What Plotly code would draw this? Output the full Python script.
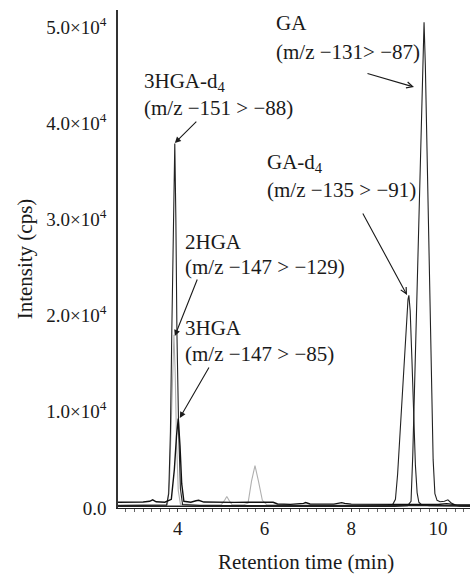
import plotly.graph_objects as go

# ---------------- data (retention time in min, intensity in cps) ----------------
t_ga = [2.62, 3.0, 3.5, 4.0, 4.5, 5.0, 5.5, 6.0, 6.5, 7.0, 7.5, 8.0, 8.5, 9.0, 9.30, 9.38,
        9.42, 9.46, 9.50, 9.55, 9.60, 9.65, 9.68, 9.71, 9.75, 9.80, 9.85, 9.89, 9.93, 9.98,
        10.05, 10.15, 10.23, 10.30, 10.40, 10.50, 10.74]
i_ga = [150, 160, 150, 170, 150, 160, 150, 160, 150, 170, 150, 160, 150, 170, 250, 700,
        5500, 12500, 20000, 29000, 38000, 46500, 50500, 46000, 36000, 24000, 12500, 5000, 1500, 800,
        650, 700, 850, 550, 300, 200, 150]

t_gad4 = [2.62, 3.2, 3.8, 4.4, 5.0, 5.6, 6.2, 6.8, 7.4, 8.0, 8.6, 8.95, 9.02, 9.07, 9.12,
          9.17, 9.22, 9.27, 9.31, 9.33, 9.36, 9.40, 9.44, 9.48, 9.52, 9.56, 9.62, 9.8, 10.2, 10.74]
i_gad4 = [200, 220, 200, 210, 200, 220, 200, 210, 200, 220, 200, 300, 900, 3500, 7500,
          11500, 15500, 19500, 21700, 22100, 20500, 15500, 9500, 4500, 1600, 600, 350, 250, 220, 200]

t_3hgad4 = [2.62, 3.2, 3.6, 3.74, 3.79, 3.83, 3.86, 3.90, 3.93, 3.955, 3.98, 4.02, 4.06, 4.11,
            4.5, 5.2, 6.0, 7.0, 8.0, 9.0, 10.0, 10.74]
i_3hgad4 = [250, 260, 250, 300, 1500, 8000, 18000, 30000, 37900, 30000, 18000, 8000, 2000, 350,
            260, 250, 260, 250, 250, 260, 250, 250]

t_2hga = [2.62, 3.3, 3.76, 3.81, 3.85, 3.88, 3.91, 3.94, 3.97, 4.01, 4.06, 4.5, 5.0, 5.08,
          5.13, 5.18, 5.25, 5.5, 5.62, 5.70, 5.78, 5.86, 5.95, 6.05, 6.5, 7.5, 8.5, 9.5, 10.74]
i_2hga = [300, 300, 350, 3000, 10000, 15500, 18000, 14000, 7000, 1800, 400, 320, 320, 800,
          1200, 800, 350, 320, 500, 2800, 4400, 2800, 800, 350, 300, 300, 300, 300, 300]

t_3hga = [2.62, 2.9, 3.2, 3.35, 3.42, 3.5, 3.7, 3.85, 3.92, 3.97, 4.01, 4.05, 4.09, 4.14, 4.3,
          4.42, 4.48, 4.6, 4.8, 5.0, 5.3, 5.6, 5.9, 6.2, 6.3, 6.6, 6.9, 6.95, 7.05, 7.3, 7.6,
          7.78, 7.85, 8.0, 8.4, 8.8, 9.0, 9.5, 10.0, 10.2, 10.4, 10.74]
i_3hga = [600, 580, 620, 700, 850, 650, 600, 900, 4000, 7500, 9300, 6500, 2500, 700, 600,
          750, 800, 620, 600, 620, 580, 600, 620, 600, 420, 380, 480, 560, 420, 380, 400,
          560, 480, 400, 380, 400, 380, 350, 360, 450, 350, 330]

y_tickvals = [0, 10000, 20000, 30000, 40000, 50000]
y_ticktext = ["0.0", "1.0×10<sup>4</sup>", "2.0×10<sup>4</sup>", "3.0×10<sup>4</sup>",
              "4.0×10<sup>4</sup>", "5.0×10<sup>4</sup>"]
x_tickvals = [4, 6, 8, 10]
x_ticktext = ["4", "6", "8", "10"]

FONT = "Liberation Serif, Times New Roman, serif"
TXT = "#1a1a1a"

fig = go.Figure()
series = [
    ("2HGA", t_2hga, i_2hga, "#b0b0b0", 1.1),
    ("GA", t_ga, i_ga, "#222222", 1.1),
    ("GA-d4", t_gad4, i_gad4, "#222222", 1.1),
    ("3HGA-d4", t_3hgad4, i_3hgad4, "#222222", 1.1),
    ("3HGA", t_3hga, i_3hga, "#111111", 1.4),
]
for name, t, i, col, w in series:
    fig.add_trace(go.Scatter(x=t, y=i, mode="lines", name=name,
                             line=dict(color=col, width=w), showlegend=False))

# text labels
labels = [
    (6.23, 50400, "GA"),
    (6.23, 47400, "(m/z −131> −87)"),
    (3.172, 44280, "3HGA-d<sub>4</sub>"),
    (3.172, 41580, "(m/z −151 > −88)"),
    (6.0, 35860, "GA-d<sub>4</sub>"),
    (6.0, 33060, "(m/z −135 > −91)"),
    (4.115, 27650, "2HGA"),
    (4.115, 25050, "(m/z −147 > −129)"),
    (4.115, 18710, "3HGA"),
    (4.115, 16010, "(m/z −147 > −85)"),
]
for x, y, txt in labels:
    fig.add_annotation(x=x, y=y, text=txt, showarrow=False, xanchor="left", yanchor="middle",
                       font=dict(family=FONT, size=21, color=TXT))

# arrows (tip in data coords, tail offset in pixels, head style)
arrows = [
    (3.931, 37940, 23, -23, 2),
    (9.448, 43760, -48, -14, 5),
    (9.287, 22140, -45, -83, 5),
    (3.931, 17880, 23, -58, 2),
    (4.046, 9360, 30, -52, 2),
]
for x, y, ax, ay, head in arrows:
    fig.add_annotation(x=x, y=y, ax=ax, ay=ay, text="", showarrow=True,
                       arrowhead=head, arrowsize=1.1, arrowwidth=1.1, arrowcolor=TXT,
                       standoff=0)

fig.add_annotation(x=0.534, y=-0.108, xref="paper", yref="paper", text="Retention time (min)",
                   showarrow=False, xanchor="center", yanchor="middle",
                   font=dict(family=FONT, size=21, color=TXT))

fig.update_layout(
    width=470, height=574,
    margin=dict(l=118, r=0, t=10, b=66),
    paper_bgcolor="white", plot_bgcolor="white",
    font=dict(family=FONT, size=19, color=TXT),
    xaxis=dict(range=[2.62, 10.74], tickvals=x_tickvals, ticktext=x_ticktext,
               showline=True, linecolor="#222", linewidth=1.2, showgrid=False, zeroline=False,
               ticks="outside", ticklen=3, tickcolor="#444",
               minor=dict(dtick=0.2, tick0=0, ticks="outside", ticklen=3, tickcolor="#666"),
               tickfont=dict(family=FONT, size=19)),
    yaxis=dict(range=[0, 51770], tickvals=y_tickvals, ticktext=y_ticktext,
               showline=True, linecolor="#333", linewidth=1.5, showgrid=False, zeroline=False,
               ticks="", ticklabelstandoff=6,
               title=dict(text="Intensity (cps)", font=dict(family=FONT, size=21), standoff=8),
               tickfont=dict(family=FONT, size=19)),
)

fig.write_html("out.html")
